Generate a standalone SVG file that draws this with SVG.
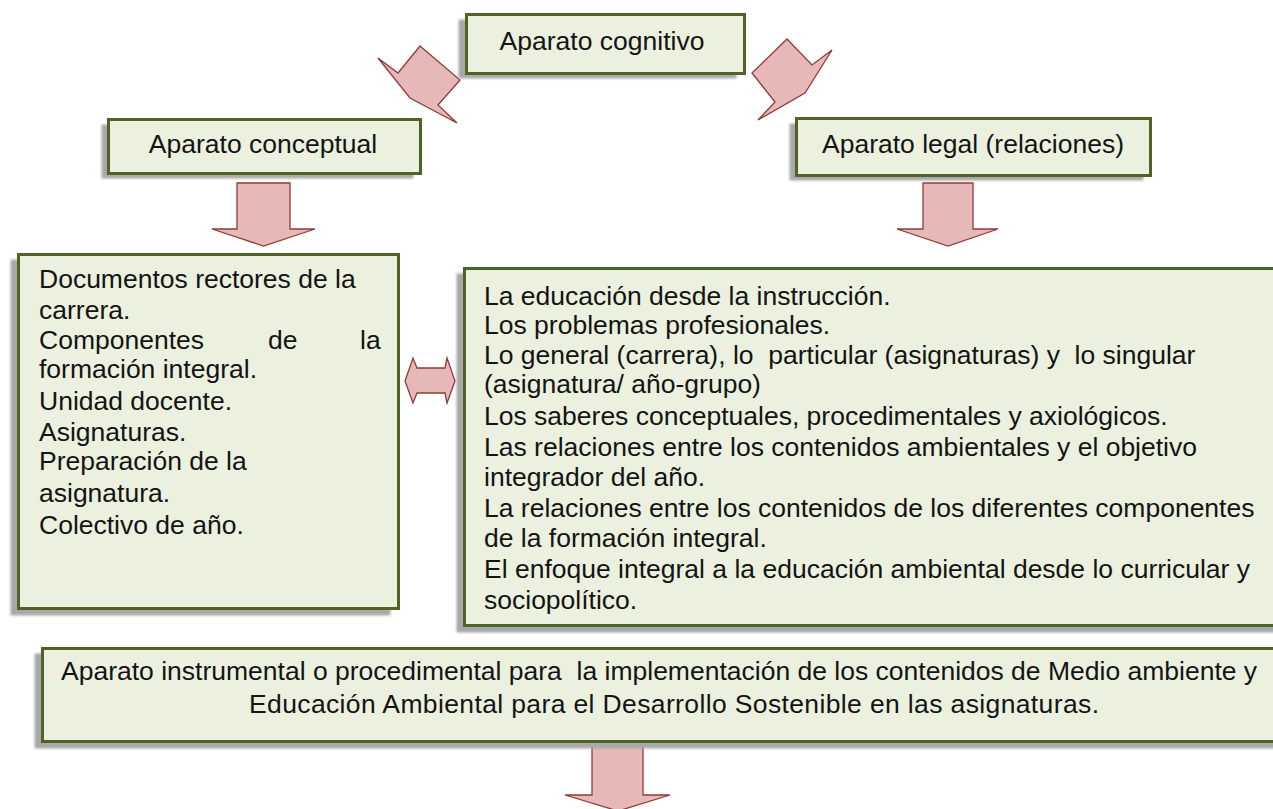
<svg xmlns="http://www.w3.org/2000/svg" width="1273" height="809" viewBox="0 0 1273 809">
<defs>
<filter id="soft" x="-5%" y="-5%" width="110%" height="110%"><feGaussianBlur stdDeviation="1.2"/></filter>
<style>
.box{fill:#ebf1de;stroke:#4f6228;stroke-width:3}
.sh{fill:#a8a8a8;filter:url(#soft)}
.t{font-family:"Liberation Sans",Arial,sans-serif;font-size:26.5px;fill:#141414}
.c{text-anchor:middle}
.arr{fill:#e6b9b8;stroke:#8e3b39;stroke-width:1.3;stroke-linejoin:miter}
</style>
</defs>
<rect width="1273" height="809" fill="#ffffff"/>

<g id="connectors">
<polygon class="arr" points="420,46 460,80 438,105 457,123 410,98 378,58 398,73"/>
<polygon class="arr" points="787,39 812,65 832,50 805,93 758,120 775,102 752,73"/>
<polygon class="arr" points="237,183 290,183 290,229 315,229 263.5,246 212,229 237,229"/>
<polygon class="arr" points="923,183 973,183 973,229 998,229 948,246 897,229 923,229"/>
<polygon class="arr" points="405,381 413,358 417,368 445,368 447,358 455,381 447,403 445,393 417,393 413,403"/>
<polygon class="arr" points="592,745 643,745 643,795 670,795 618,811 565,795 592,795"/>
</g>

<g id="cognitivo">
<rect class="sh" x="458.5" y="19.5" width="278" height="59"/>
<rect class="box" x="466.5" y="14.5" width="278" height="59"/>
<text class="t c" x="602" y="50">Aparato cognitivo</text>
</g>

<g id="conceptual">
<rect class="sh" x="101.5" y="124.5" width="312" height="54"/>
<rect class="box" x="108.5" y="119.5" width="312" height="54"/>
<text class="t c" x="263" y="153">Aparato conceptual</text>
</g>

<g id="legal">
<rect class="sh" x="789.5" y="123.5" width="354" height="57"/>
<rect class="box" x="796.5" y="118.5" width="354" height="57"/>
<text class="t c" x="973" y="153">Aparato legal (relaciones)</text>
</g>

<g id="conceptos">
<rect class="sh" x="10.5" y="259.5" width="380" height="356"/>
<rect class="box" x="18.5" y="254.5" width="380" height="354"/>
<text class="t" x="39" y="288">Documentos rectores de la</text>
<text class="t" x="39" y="319">carrera.</text>
<text class="t" x="39" y="349">Componentes</text>
<text class="t" x="268" y="349">de</text>
<text class="t" x="360" y="349">la</text>
<text class="t" x="39" y="378">formación integral.</text>
<text class="t" x="39" y="410">Unidad docente.</text>
<text class="t" x="39" y="441">Asignaturas.</text>
<text class="t" x="39" y="470">Preparación de la</text>
<text class="t" x="39" y="502">asignatura.</text>
<text class="t" x="39" y="534">Colectivo de año.</text>
</g>

<g id="relaciones">
<rect class="sh" x="456.5" y="273.5" width="830" height="359"/>
<rect class="box" x="464.5" y="268.5" width="830" height="357"/>
<text class="t" x="484" y="305">La educación desde la instrucción.</text>
<text class="t" x="484" y="334">Los problemas profesionales.</text>
<text class="t" x="484" y="364" xml:space="preserve">Lo general (carrera), lo  particular (asignaturas) y  lo singular</text>
<text class="t" x="484" y="393">(asignatura/ año-grupo)</text>
<text class="t" x="484" y="425">Los saberes conceptuales, procedimentales y axiológicos.</text>
<text class="t" x="484" y="456">Las relaciones entre los contenidos ambientales y el objetivo</text>
<text class="t" x="484" y="486">integrador del año.</text>
<text class="t" x="484" y="517">La relaciones entre los contenidos de los diferentes componentes</text>
<text class="t" x="484" y="547">de la formación integral.</text>
<text class="t" x="484" y="578">El enfoque integral a la educación ambiental desde lo curricular y</text>
<text class="t" x="484" y="609">sociopolítico.</text>
</g>

<g id="instrumental">
<rect class="sh" x="34.5" y="653.5" width="1250" height="95"/>
<rect class="box" x="42.5" y="648.5" width="1250" height="93"/>
<text class="t" x="61" y="680" xml:space="preserve">Aparato instrumental o procedimental para  la implementación de los contenidos de Medio ambiente y</text>
<text class="t" x="249" y="713" textLength="850" lengthAdjust="spacing">Educación Ambiental para el Desarrollo Sostenible en las asignaturas.</text>
</g>
</svg>
